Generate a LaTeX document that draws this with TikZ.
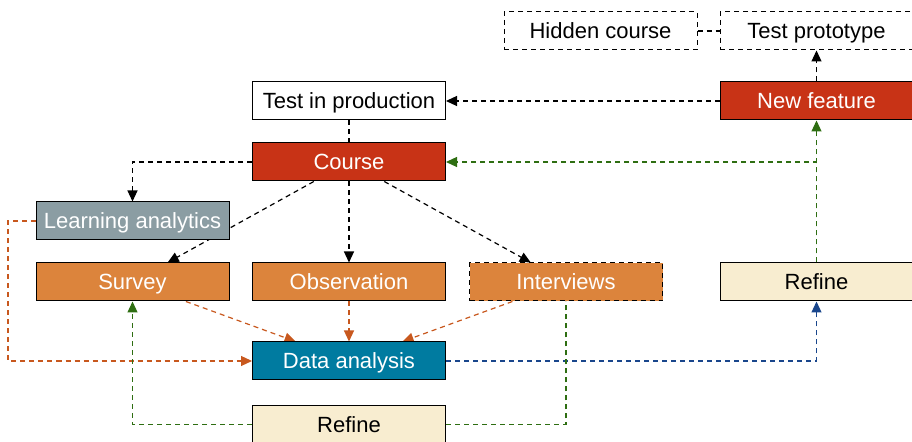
\documentclass[tikz,border=0pt]{standalone}
\usepackage{fontspec}
\setmainfont{Liberation Sans}
\usetikzlibrary{arrows.meta,backgrounds}
\definecolor{cred}{RGB}{200,51,22}
\definecolor{corange}{RGB}{220,132,60}
\definecolor{cgray}{RGB}{139,157,163}
\definecolor{cblue}{RGB}{0,123,160}
\definecolor{ccream}{RGB}{248,237,208}
\definecolor{lgreen}{RGB}{46,110,18}
\definecolor{lorange}{RGB}{200,88,30}
\definecolor{lblue}{RGB}{25,70,140}
\begin{document}
\begin{tikzpicture}[x=0.5pt,y=-0.5pt,
  box/.style={draw=black,line width=0.5pt,minimum width=96.5pt,minimum height=19pt,inner sep=0pt,text height=7.9pt,text depth=0pt,font=\fontsize{11}{13}\selectfont},
  whitebox/.style={box,fill=white,text=black},
  redbox/.style={box,fill=cred,text=white},
  orangebox/.style={box,fill=corange,text=white},
  graybox/.style={box,fill=cgray,text=white},
  bluebox/.style={box,fill=cblue,text=white},
  creambox/.style={box,fill=ccream,text=black},
  dashbox/.style={dash pattern=on 2.5pt off 2pt},
  conn/.style={line width=0.6pt,dash pattern=on 2.5pt off 2pt},
  arr/.style={conn,-{Triangle[length=5.5pt,width=5pt]}}
]
\useasboundingbox (0,0) rectangle (912,442);
\node[whitebox,dashbox] (hidden) at (600.5,31) {Hidden course};
\node[whitebox,dashbox] (proto) at (816.5,31) {Test prototype};
\node[redbox] (newf) at (816.5,101) {New feature};
\node[whitebox] (prod) at (349,101) {Test in production};
\node[redbox] (course) at (349,162) {Course};
\node[graybox] (la) at (132.5,221) {Learning analytics};
\node[orangebox] (survey) at (132.5,282) {Survey};
\node[orangebox] (obs) at (349,282) {Observation};
\node[orangebox,dashbox] (interv) at (566,282) {Interviews};
\node[creambox] (refR) at (816.5,282) {Refine};
\node[bluebox] (da) at (349,361) {Data analysis};
\node[creambox] (refB) at (349,424.5) {Refine};
\coordinate (lo) at (8,221);
\begin{pgfonlayer}{background}
\draw[conn] (hidden) -- (proto);
\draw[arr] (newf) -- (proto);
\draw[arr] (newf) -- (prod);
\draw[conn] (prod) -- (course);
\draw[arr] (course.west) -| (la.north);
\draw[arr] (course) -- (survey);
\draw[arr] (course) -- (obs);
\draw[arr] (course) -- (interv);
\draw[arr,lorange] (la.west) -- (lo) |- (da.west);
\draw[arr,lorange] (survey) -- (da);
\draw[arr,lorange] (obs) -- (da);
\draw[arr,lorange] (interv) -- (da);
\draw[arr,lblue] (da.east) -| (refR.south);
\draw[arr,lgreen] (refR) -- (newf);
\draw[arr,lgreen] (refR.north) |- (course.east);
\draw[arr,lgreen] (refB.west) -| (survey.south);
\draw[conn,lgreen] (refB.east) -| (interv.south);
\end{pgfonlayer}
\end{tikzpicture}
\end{document}
